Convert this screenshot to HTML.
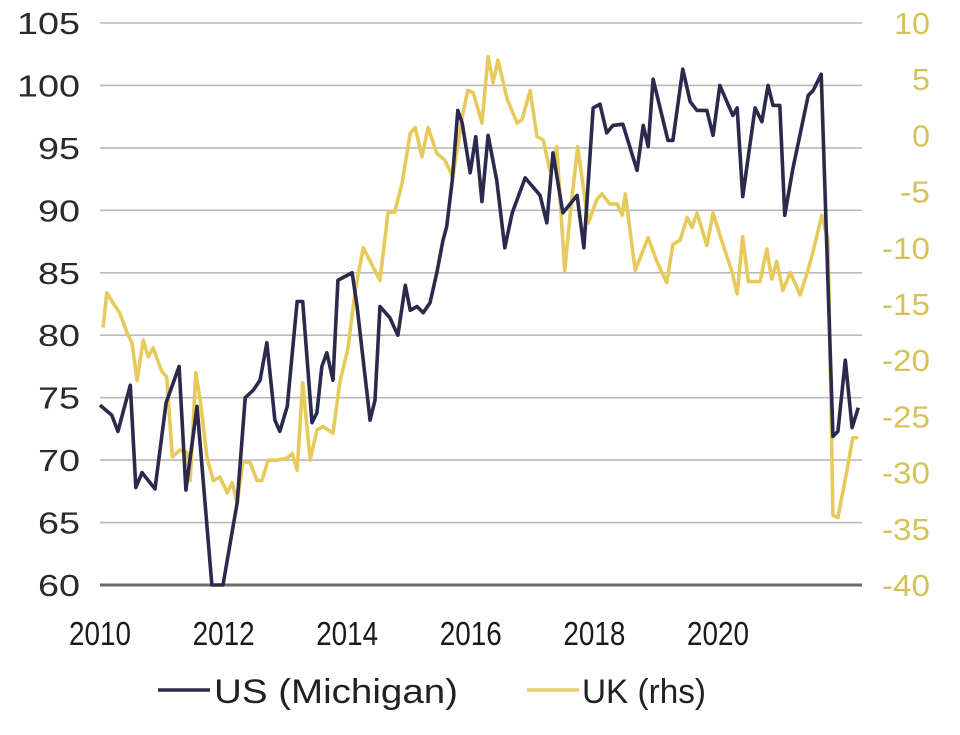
<!DOCTYPE html>
<html><head><meta charset="utf-8"><style>
html,body{margin:0;padding:0;background:#fff;}
svg{display:block;font-family:"Liberation Sans",Arial,sans-serif;}
</style></head><body>
<svg id="chart" width="960" height="735" viewBox="0 0 960 735" xmlns="http://www.w3.org/2000/svg">
<g id="grid"></g>
<g id="yl"></g>
<g id="yr"></g>
<g id="xa"></g>
<g id="series"></g>
<g>
<line x1="158" y1="690" x2="210" y2="690" stroke="#2b2a4c" stroke-width="3.5"/>
<text x="214" y="703" font-size="34" fill="#222" textLength="244" lengthAdjust="spacingAndGlyphs">US (Michigan)</text>
<line x1="527" y1="690" x2="579" y2="690" stroke="#e6cf72" stroke-width="3.5"/>
<text x="582" y="703" font-size="34" fill="#222" textLength="124" lengthAdjust="spacingAndGlyphs">UK (rhs)</text>
</g>
</svg>
<script>
const leftTicks=[60,65,70,75,80,85,90,95,100,105];
const rightTicks=[-40,-35,-30,-25,-20,-15,-10,-5,0,5,10];
const xTicks=[2010,2012,2014,2016,2018,2020];
const usT=[2010.00,2010.19,2010.29,2010.49,2010.58,2010.68,2010.89,2011.07,2011.28,2011.39,2011.57,2011.81,2011.99,2012.22,2012.35,2012.48,2012.59,2012.70,2012.83,2012.91,2013.03,2013.19,2013.28,2013.43,2013.51,2013.59,2013.67,2013.77,2013.85,2014.08,2014.16,2014.37,2014.45,2014.53,2014.69,2014.82,2014.94,2015.02,2015.13,2015.23,2015.34,2015.45,2015.55,2015.61,2015.70,2015.79,2015.86,2015.99,2016.08,2016.18,2016.28,2016.42,2016.55,2016.67,2016.88,2017.12,2017.23,2017.33,2017.49,2017.72,2017.83,2017.98,2018.09,2018.20,2018.30,2018.46,2018.69,2018.79,2018.87,2018.95,2019.19,2019.27,2019.43,2019.55,2019.66,2019.82,2019.92,2020.03,2020.24,2020.31,2020.40,2020.60,2020.71,2020.81,2020.89,2021.00,2021.08,2021.21,2021.46,2021.54,2021.67,2021.86,2021.94,2022.06,2022.17,2022.27];
const usV=[74.4,73.6,72.3,76,67.8,69,67.7,74.6,77.5,67.6,74.3,60,60,66.6,75,75.6,76.4,79.4,73.2,72.3,74.3,82.7,82.7,73,73.8,77.5,78.6,76.4,84.4,85,82.3,73.2,74.8,82.3,81.4,80,84,82,82.3,81.8,82.6,85,87.6,88.7,92.4,98,97,93,95.9,90.7,96,92.4,87,89.8,92.6,91.2,89,94.6,89.8,91.2,87,98.2,98.5,96.2,96.8,96.9,93.2,96.8,95.1,100.5,95.6,95.6,101.3,98.7,98,98,96,100,97.6,98.2,91.1,98.2,97.1,100,98.4,98.4,89.6,93.3,99.2,99.6,100.9,71.9,72.3,78,72.6,74.2];
const ukT=[2010.05,2010.11,2010.21,2010.32,2010.44,2010.52,2010.60,2010.70,2010.78,2010.86,2011.00,2011.08,2011.17,2011.29,2011.41,2011.46,2011.55,2011.62,2011.73,2011.83,2011.94,2012.06,2012.14,2012.22,2012.31,2012.43,2012.54,2012.62,2012.72,2012.86,2013.03,2013.11,2013.19,2013.28,2013.40,2013.51,2013.61,2013.77,2013.88,2014.01,2014.13,2014.26,2014.53,2014.66,2014.77,2014.89,2015.02,2015.10,2015.21,2015.31,2015.45,2015.58,2015.71,2015.86,2015.95,2016.04,2016.18,2016.28,2016.36,2016.44,2016.59,2016.75,2016.83,2016.96,2017.07,2017.17,2017.28,2017.39,2017.52,2017.61,2017.73,2017.90,2018.04,2018.12,2018.25,2018.37,2018.45,2018.50,2018.66,2018.87,2019.01,2019.17,2019.27,2019.39,2019.50,2019.58,2019.66,2019.82,2019.92,2020.08,2020.23,2020.31,2020.40,2020.49,2020.68,2020.79,2020.87,2020.95,2021.05,2021.17,2021.33,2021.46,2021.54,2021.68,2021.78,2021.86,2021.94,2022.09,2022.18,2022.27];
const ukV=[-17.1,-14,-14.9,-15.8,-17.6,-18.5,-21.8,-18.2,-19.7,-18.9,-21,-21.5,-28.6,-28,-28.2,-30.7,-21.1,-23.5,-28.6,-30.7,-30.4,-31.8,-30.9,-32.7,-29.1,-29.1,-30.7,-30.7,-28.9,-28.9,-28.7,-28.3,-29.8,-22,-28.9,-26.2,-25.9,-26.5,-22,-19,-13.8,-10,-12.9,-6.9,-6.8,-4.2,0.2,0.7,-1.9,0.7,-1.6,-2.2,-3.7,1.6,4,3.8,1.1,7,4.7,6.7,3.2,1.1,1.4,4,-0.1,-0.4,-3.1,-1,-12,-6.9,-1,-7.8,-5.7,-5.2,-6.1,-6.1,-7.1,-5.2,-12,-9.1,-11.2,-13.1,-9.7,-9.3,-7.3,-8.2,-6.9,-9.8,-6.9,-9.7,-12.2,-14.1,-9,-13,-13,-10.1,-12.8,-11.2,-13.8,-12.2,-14.2,-11.9,-10.3,-7.1,-9.3,-33.8,-34,-29.7,-26.9,-26.9];

const NS='http://www.w3.org/2000/svg';
const X0=100,X1=862,Y0=585,Y1=23;
const xs=t=>X0+(t-2010)*61.8;
const yL=v=>Y0-(v-60)/(105-60)*(Y0-Y1);
const yR=v=>Y0-(v+40)/(50)*(Y0-Y1);
function mk(tag,attrs,parent){const e=document.createElementNS(NS,tag);for(const k in attrs)e.setAttribute(k,attrs[k]);parent.appendChild(e);return e;}
const grid=document.getElementById('grid'),yl=document.getElementById('yl'),yr=document.getElementById('yr'),xa=document.getElementById('xa'),ser=document.getElementById('series');
leftTicks.forEach(v=>{
  const y=yL(v);
  const g=mk('line',{x1:X0,x2:X1,y1:y,y2:y,stroke:v===60?'#6b6b6b':'#b9b9b9','stroke-width':v===60?3:1.6},grid);
  
  
  const t=mk('text',{x:80,y:y+11,'text-anchor':'end','font-size':31,fill:'#2a2a2a',textLength:String(v).length*21,lengthAdjust:'spacingAndGlyphs'},yl);
  t.textContent=v;
  
  
});
rightTicks.forEach(v=>{
  const y=yR(v);
  const s=String(v);
  const w=(v<0?12:0)+(s.replace('-','').length)*18;
  const t=mk('text',{x:930-w,y:y+11,'font-size':31,fill:'#d7c25a',textLength:w,lengthAdjust:'spacingAndGlyphs'},yr);
  t.textContent=s;
  
  
});
xTicks.forEach(v=>{
  const t=mk('text',{x:xs(v)-31,y:645,'font-size':33,fill:'#1a1a1a',textLength:62,lengthAdjust:'spacingAndGlyphs'},xa);
  t.textContent=v;
  
  
});
const uk=mk('polyline',{points:ukT.map((t,i)=>xs(t)+','+yR(ukV[i])).join(' '),fill:'none',stroke:'#e6cb5c','stroke-width':3.6,'stroke-linejoin':'round'},ser);


const us=mk('polyline',{points:usT.map((t,i)=>xs(t)+','+yL(usV[i])).join(' '),fill:'none',stroke:'#2b2a4c','stroke-width':3.6,'stroke-linejoin':'round'},ser);


</script>
</body></html>
